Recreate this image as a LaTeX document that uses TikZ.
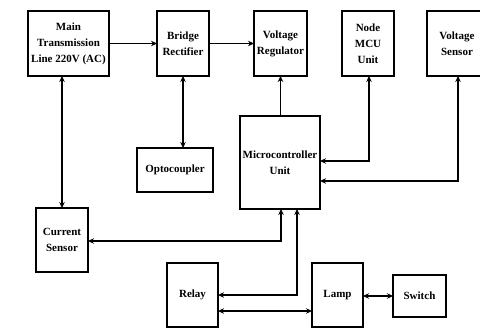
\documentclass[tikz,border=0pt]{standalone}
\usepackage{fontspec}
\setmainfont{Liberation Serif}
\usetikzlibrary{arrows.meta}
\begin{document}
\begin{tikzpicture}[x=1pt,y=-1pt,
  box/.style={draw,line width=2pt,anchor=north west,inner sep=1pt,outer sep=0pt,
    align=center,font=\fontsize{11}{16}\selectfont\bfseries},
  conn/.style={line width=1.6pt,-{Stealth[length=6pt,width=5.5pt]}},
  conn2/.style={line width=1.6pt,{Stealth[length=6pt,width=5.5pt]}-{Stealth[length=6pt,width=5.5pt]}}]
\useasboundingbox (0,0) rectangle (480,329);
\node[box,minimum width=81pt,minimum height=65pt] (main) at (28,11) {Main\\Transmission\\Line 220V (AC)};
\node[box,minimum width=52pt,minimum height=65pt] (bridge) at (157,11) {Bridge\\Rectifier};
\node[box,minimum width=53pt,minimum height=65pt] (vreg) at (254,11) {Voltage\\Regulator};
\node[box,minimum width=52pt,minimum height=65pt] (nmcu) at (342,11) {Node\\MCU\\Unit};
\node[box,minimum width=60pt,minimum height=65pt] (vsens) at (427,11) {Voltage\\Sensor};
\node[box,minimum width=76pt,minimum height=44pt] (opto) at (137,148) {Optocoupler};
\node[box,minimum width=80pt,minimum height=93pt] (mcu) at (240,116) {Microcontroller\\Unit};
\node[box,minimum width=52pt,minimum height=64pt] (cur) at (36,208) {Current\\Sensor};
\node[box,minimum width=51pt,minimum height=64pt] (relay) at (167,263) {Relay};
\node[box,minimum width=51pt,minimum height=64pt] (lamp) at (312,263) {Lamp};
\node[box,minimum width=53pt,minimum height=42pt] (switch) at (393,275) {Switch};
\coordinate (c1) at (369,161);
\coordinate (c2) at (458,181);
\coordinate (c3) at (297,295);
\coordinate (c4) at (281,241);
\coordinate (c5) at (0,311);
\draw[conn] (main.east) -- (bridge.west);
\draw[conn] (bridge.east) -- (vreg.west);
\draw[conn2] (main.south -| cur.north) -- (cur.north);
\draw[conn2] (bridge.south) -- (bridge.south |- opto.north);
\draw[conn] (mcu.north -| vreg.south) -- (vreg.south);
\draw[conn2] (nmcu.south -| c1) -- (c1) -- (mcu.east |- c1);
\draw[conn2] (vsens.south -| c2) -- (c2) -- (mcu.east |- c2);
\draw[conn2] (mcu.south -| c4) -- (c4) -- (cur.east |- c4);
\draw[conn2] (mcu.south -| c3) -- (c3) -- (relay.east |- c3);
\draw[conn2] (relay.east |- c5) -- (lamp.west |- c5);
\draw[conn2] (lamp.east |- switch.west) -- (switch.west);
\end{tikzpicture}
\end{document}
